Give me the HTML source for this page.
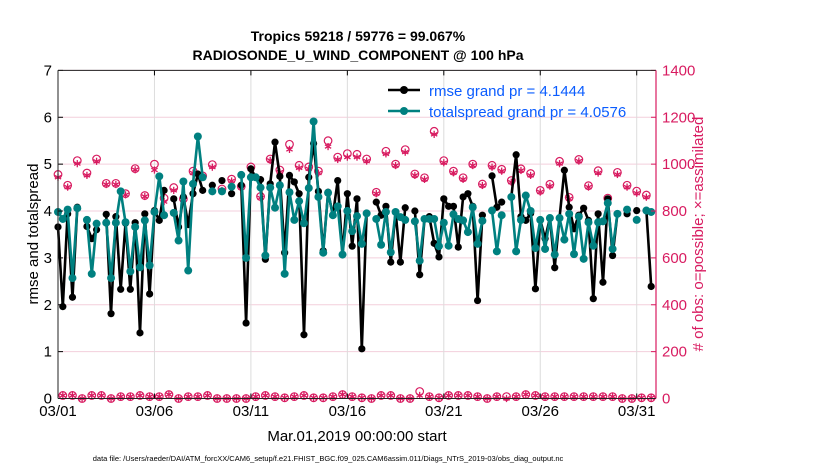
<!DOCTYPE html>
<html><head><meta charset="utf-8"><style>
html,body{margin:0;padding:0;background:#fff}
svg{display:block;font-family:"Liberation Sans",sans-serif}
</style></head><body>
<svg id="chart" width="830" height="470" viewBox="0 0 830 470" xmlns="http://www.w3.org/2000/svg">
<rect width="830" height="470" fill="#fff"/>
<text x="358" y="41" font-size="14" font-weight="bold" text-anchor="middle">Tropics 59218 / 59776 = 99.067%</text>
<text x="358" y="60" font-size="14" font-weight="bold" text-anchor="middle">RADIOSONDE_U_WIND_COMPONENT @ 100 hPa</text>
<g id="grid"></g>
<g id="obs"></g>
<g id="series"></g>
<g id="axes"></g>
<text transform="translate(38,234) rotate(-90)" font-size="15" text-anchor="middle">rmse and totalspread</text>
<text transform="translate(703,234) rotate(-90)" font-size="15" text-anchor="middle" fill="#d81b60">#&#160;of obs: o=possible; ×=assimilated</text>
<text x="357" y="441" font-size="15" text-anchor="middle">Mar.01,2019 00:00:00 start</text>
<text x="328" y="461" font-size="7.5" text-anchor="middle">data file: /Users/raeder/DAI/ATM_forcXX/CAM6_setup/f.e21.FHIST_BGC.f09_025.CAM6assim.011/Diags_NTrS_2019-03/obs_diag_output.nc</text>
<g id="legend">
<line x1="388" y1="90" x2="420" y2="90" stroke="#000" stroke-width="2.5"/>
<circle cx="404" cy="90" r="4" fill="#000"/>
<text x="429" y="96" font-size="15" fill="#0a5cff">rmse grand pr = 4.1444</text>
<line x1="388" y1="111" x2="420" y2="111" stroke="#008080" stroke-width="2.5"/>
<circle cx="404" cy="111" r="4" fill="#008080"/>
<text x="429" y="117" font-size="15" fill="#0a5cff">totalspread grand pr = 4.0576</text>
</g>
</svg>
<script>
const xTickLabels = ["03/01","03/06","03/11","03/16","03/21","03/26","03/31"];
const xTickDays = [0,5,10,15,20,25,30];
const yTicks = [0,1,2,3,4,5,6,7];
const y2Ticks = [0,200,400,600,800,1000,1200,1400];
const N = null;
const rmse = [3.66,1.96,3.94,2.16,4.08,N,3.67,3.41,3.60,N,3.93,1.81,3.88,2.33,3.74,2.33,3.75,1.40,3.94,2.23,4.01,3.80,4.44,N,4.26,3.66,4.30,3.71,4.37,4.79,4.44,N,4.55,N,4.65,N,4.37,N,4.55,1.61,4.90,4.72,4.67,2.97,4.58,5.47,4.74,3.11,4.76,4.62,4.37,1.36,4.72,5.44,4.42,3.15,4.40,3.91,4.65,3.07,4.37,3.25,4.26,1.06,3.95,N,4.19,3.91,4.10,2.91,3.98,2.91,4.07,N,4.00,2.64,3.83,3.88,3.31,3.02,4.26,4.10,4.10,3.23,4.30,4.37,4.10,2.09,3.91,N,4.75,4.08,4.19,N,4.30,5.20,3.88,3.80,3.95,2.34,3.81,3.41,3.85,2.79,3.85,4.87,4.08,3.62,3.91,4.06,3.80,2.13,3.94,2.48,4.26,3.05,3.94,N,3.94,N,4.01,N,4.01,2.39];
const spread = [3.98,3.83,4.03,2.57,4.06,N,3.81,2.66,3.73,N,3.75,2.57,3.75,4.42,3.76,2.71,3.66,2.80,3.80,2.84,3.98,4.74,3.91,N,3.96,3.37,4.63,2.73,4.58,5.59,4.72,N,4.42,N,4.42,N,4.52,N,4.77,3.00,4.72,4.72,4.50,3.05,4.50,4.07,4.55,2.66,4.40,3.81,4.21,3.74,4.49,5.91,4.30,3.11,4.39,3.91,4.10,3.07,4.00,3.57,3.89,3.30,3.95,N,3.83,3.28,3.98,3.12,3.98,3.87,3.81,N,3.78,2.94,3.83,3.83,3.83,3.25,3.75,3.26,3.93,3.83,3.80,3.55,4.08,3.30,3.79,N,4.01,3.14,3.91,N,4.30,3.14,3.81,4.33,4.00,3.21,3.81,3.19,3.85,3.07,3.85,3.39,3.94,3.08,3.88,2.98,3.76,3.26,3.76,3.78,4.17,3.19,3.94,N,4.03,N,3.81,N,4.01,3.98];
const assimUpper = [944,902,1002,952,1012,913,913,869,976,862,975,840,888,848,962,944,987,888,928,899,980,856,1016,966,1063,984,980,962,1075,1020,1030,1030,1013,874,1044,994,1051,952,935,1127,1006,963,935,994,909,987,970,923,973,952,881,906,1002,852,1013,902,962,848,956,902,876,859];
const possUpper = [956,910,1015,962,1022,918,918,874,981,866,1000,855,900,852,970,950,998,894,936,905,988,862,1022,975,1085,995,988,970,1100,1030,1045,1042,1022,880,1055,1000,1062,958,942,1140,1015,970,942,1000,915,995,978,930,980,960,888,914,1012,858,1020,908,972,855,965,910,885,868];
const assimLower = [13,13,0,13,13,0,8,8,13,8,8,17,0,8,8,13,0,0,0,0,8,13,8,3,8,13,3,3,8,17,8,3,0,13,13,0,0,13,8,3,13,13,13,8,0,8,0,8,17,13,8,8,8,8,8,8,8,8,0,0,3,3];
const possLower = [13,13,0,13,13,0,8,8,13,8,8,17,0,8,8,13,0,0,0,0,8,13,8,3,8,13,3,3,8,17,8,3,0,13,13,0,0,30,8,3,13,13,13,8,0,8,8,8,17,13,8,8,8,8,8,8,8,8,0,0,3,3];

const X0=58, X1=656, Y0=398.5, Y1=70.4;
const xS = d => X0 + d*(X1-X0)/31;
const yS = v => Y0 - v*(Y0-Y1)/7;
const y2S = v => Y0 - v*(Y0-Y1)/1400;
const tOf = i => i*0.25;
const NS="http://www.w3.org/2000/svg";
function mk(tag, attrs, parent){const e=document.createElementNS(NS,tag);for(const k in attrs)e.setAttribute(k,attrs[k]);parent.appendChild(e);return e;}
const grid=document.getElementById('grid'), axes=document.getElementById('axes'), obs=document.getElementById('obs'), series=document.getElementById('series');
const PINK="#d81b60";

yTicks.forEach(v=>{
  const l=mk('line',{x1:X0,x2:X1,y1:yS(v),y2:yS(v),stroke:'#f3cfdc','stroke-width':1},grid);
  
  
  mk('line',{x1:X0,x2:X0+5,y1:yS(v),y2:yS(v),stroke:'#000'},axes);
  const t=mk('text',{x:X0-6,y:yS(v)+5,'font-size':15,'text-anchor':'end'},axes);
  t.textContent=v;
  
  
});
y2Ticks.forEach(v=>{
  mk('line',{x1:X1-5,x2:X1,y1:y2S(v),y2:y2S(v),stroke:PINK},axes);
  const t=mk('text',{x:X1+6,y:y2S(v)+5,'font-size':15,fill:PINK},axes);
  t.textContent=v;
  
  
});
xTickDays.forEach((d,k)=>{
  const l=mk('line',{x1:xS(d),x2:xS(d),y1:Y1,y2:Y0,stroke:'#dcdcdc','stroke-width':1},grid);
  
  
  mk('line',{x1:xS(d),x2:xS(d),y1:Y0,y2:Y0-5,stroke:'#000'},axes);
  mk('line',{x1:xS(d),x2:xS(d),y1:Y1,y2:Y1+5,stroke:'#000'},axes);
  const t=mk('text',{x:xS(d),y:416,'font-size':15,'text-anchor':'middle'},axes);
  t.textContent=xTickLabels[k];
  
  
});
mk('line',{x1:X0,x2:X1,y1:Y1,y2:Y1,stroke:'#222'},axes);
mk('line',{x1:X0,x2:X1,y1:Y0,y2:Y0,stroke:'#222'},axes);
mk('line',{x1:X0,x2:X0,y1:Y1,y2:Y0,stroke:'#222'},axes);
mk('line',{x1:X1,x2:X1,y1:Y1,y2:Y0,stroke:PINK,'stroke-width':1.2},axes);

function star(cx,cy,g){
  const r=3.6;
  for(let a=0;a<3;a++){const an=Math.PI/2+a*Math.PI/3;
    mk('line',{x1:cx-r*Math.cos(an),y1:cy-r*Math.sin(an),x2:cx+r*Math.cos(an),y2:cy+r*Math.sin(an),stroke:PINK,'stroke-width':1.3},g);}
}
function obsMark(i, a, p){
  const cx=xS(tOf(i));
  const g=mk('g',{},obs);
  
  
  mk('circle',{cx:cx,cy:y2S(p),r:3.8,fill:'none',stroke:PINK,'stroke-width':1.2},g);
  star(cx,y2S(a),g);
}
assimUpper.forEach((a,k)=>obsMark(2*k,a,possUpper[k]));
assimLower.forEach((a,k)=>obsMark(2*k+1,a,possLower[k]));

function drawSeries(vals,color,name,r){
  const g=mk('g',{},series);
  
  
  let seg=[];
  const flush=()=>{if(seg.length>1){mk('polyline',{points:seg.join(' '),fill:'none',stroke:color,'stroke-width':2.6,'stroke-linejoin':'round'},g);}seg=[];};
  vals.forEach((v,i)=>{if(v===null){flush();return;}seg.push(xS(tOf(i)).toFixed(1)+','+yS(v).toFixed(1));});
  flush();
  vals.forEach((v,i)=>{if(v===null)return;
    const c=mk('circle',{cx:xS(tOf(i)),cy:yS(v),r:r,fill:color},g);
    
    
  });
}
drawSeries(rmse,'#000','rmse-series',3.6);
drawSeries(spread,'#008080','totalspread-series',4);
</script>
</body></html>
